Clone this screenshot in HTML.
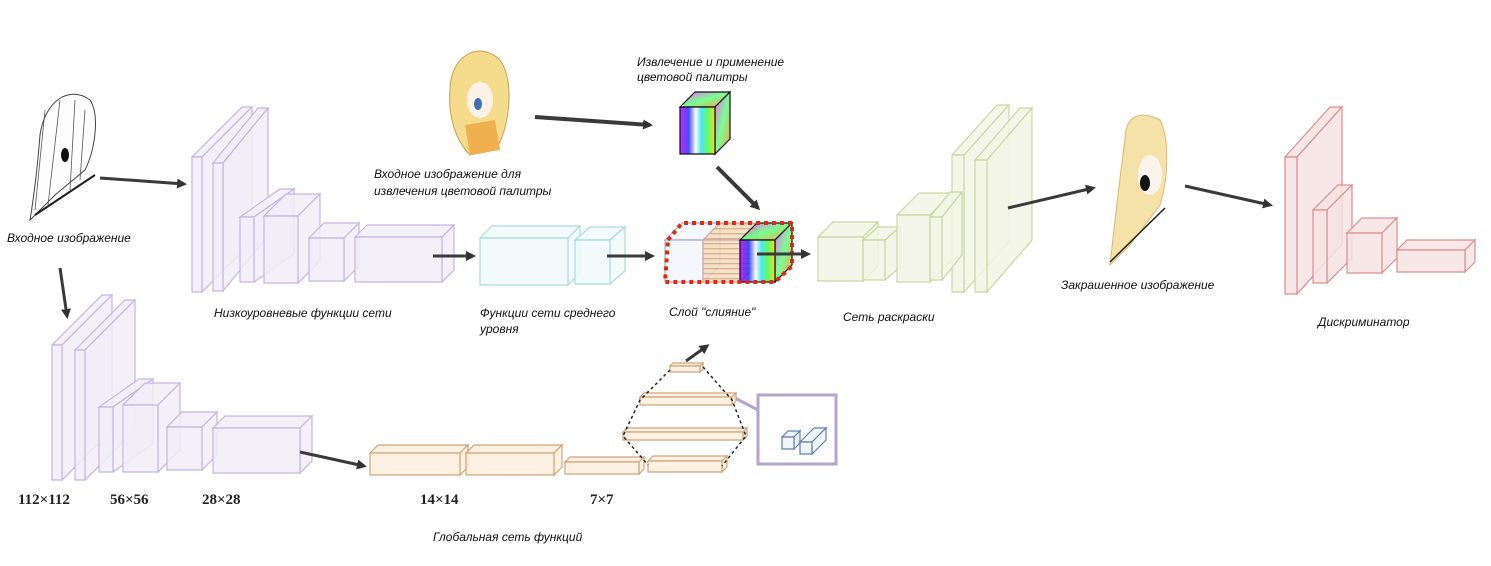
<!DOCTYPE html>
<html><head><meta charset="utf-8"><style>
html,body{margin:0;padding:0;background:#fff;width:1491px;height:566px;overflow:hidden}
svg text{font-family:"Liberation Sans","DejaVu Sans",sans-serif;font-style:italic;font-size:12px;fill:#111}
svg text.n{font-family:"Liberation Serif",serif;font-style:normal;font-weight:bold;font-size:15px;fill:#222}
</style></head><body>
<svg id="s" width="1491" height="566" viewBox="0 0 1491 566" xmlns="http://www.w3.org/2000/svg">
<defs>
<linearGradient id="rb" x1="0" x2="1" y1="0" y2="0">
<stop offset="0" stop-color="#c000ff"/><stop offset="0.25" stop-color="#2030ff"/><stop offset="0.45" stop-color="#fff"/><stop offset="0.6" stop-color="#30e0ff"/><stop offset="0.8" stop-color="#40ff40"/><stop offset="1" stop-color="#ffd000"/>
</linearGradient>
<linearGradient id="rb2" x1="0" x2="1" y1="0" y2="1">
<stop offset="0" stop-color="#ff40ff"/><stop offset="0.5" stop-color="#60ff80"/><stop offset="1" stop-color="#ff9020"/>
</linearGradient>
<pattern id="ln" width="4" height="5" patternUnits="userSpaceOnUse"><rect width="4" height="5" fill="#f4dcc0"/><rect y="3" width="4" height="1.3" fill="#d4a47c"/></pattern>
<marker id="ah" markerWidth="10" markerHeight="10" refX="7" refY="5" orient="auto" markerUnits="userSpaceOnUse"><path d="M0,0 L10,5 L0,10 z" fill="#333"/></marker>
</defs>
<path d="M735,398 L758,410" stroke="#b3a6cc" stroke-width="3"/>
<rect x="758" y="395" width="78" height="69" fill="#fff" stroke="#b3a6cc" stroke-width="3"/>
<g id="boxes"></g>

<g>
<path d="M40,135 C45,100 70,85 90,100 C100,115 95,150 85,170 L55,195 L30,220 C35,190 38,160 40,135 z" fill="#fdfdfd" stroke="#444" stroke-width="1"/>
<path d="M45,110 L35,210 M60,100 L48,205 M75,100 L70,190 M85,110 L80,180" stroke="#555" stroke-width="0.8" fill="none"/>
<ellipse cx="65" cy="155" rx="4" ry="7" fill="#111"/>
<path d="M35,215 L95,175" stroke="#222" stroke-width="2"/>
<path d="M450,90 C450,55 480,40 500,60 C515,80 510,130 495,150 L470,155 C455,140 448,115 450,90 z" fill="#f5dc8c" stroke="#c8a050"/>
<ellipse cx="480" cy="100" rx="13" ry="18" fill="#fbf2e8"/>
<ellipse cx="478" cy="104" rx="4" ry="6" fill="#4070b0"/>
<path d="M465,125 L495,120 L500,150 L470,155 z" fill="#f0b050"/>
<path d="M1125,140 C1125,115 1140,110 1160,120 C1170,140 1168,180 1160,205 L1130,245 L1110,265 C1115,220 1120,175 1125,140 z" fill="#f5e2a8" stroke="#d8b870"/>
<ellipse cx="1150" cy="175" rx="12" ry="20" fill="#fbf4ec"/>
<ellipse cx="1145" cy="183" rx="5" ry="8" fill="#111"/>
<path d="M1110,262 L1165,208" stroke="#222" stroke-width="1.5"/>
</g>

<g stroke="#3a3a3a" stroke-width="3" fill="none" marker-end="url(#ah)">
<path d="M100,178 L184,184"/>
<path d="M60,268 L67,316"/>
<path d="M433,256 L473,256"/>
<path d="M607,256 L652,256"/>
<path d="M535,117 L650,125" stroke-width="4"/>
<path d="M717,167 L758,208" stroke-width="4"/>
<path d="M757,254 L808,254"/>
<path d="M1008,208 L1093,188"/>
<path d="M1185,186 L1270,205"/>
<path d="M300,452 L364,466"/>
<path d="M686,361 L707,346"/>
</g>
<g stroke="#222" stroke-width="1.5" stroke-dasharray="3,3" fill="none">
<path d="M670,370 L640,400 L623,436 L648,465"/>
<path d="M703,367 L732,400 L746,436 L722,466"/>
</g>

<text x="7" y="242">Входное изображение</text>
<text x="214" y="317">Низкоуровневые функции сети</text>
<text x="374" y="178">Входное изображение для</text>
<text x="374" y="195">извлечения цветовой палитры</text>
<text x="637" y="66">Извлечение и применение</text>
<text x="637" y="81">цветовой палитры</text>
<text x="480" y="317">Функции сети среднего</text>
<text x="480" y="333">уровня</text>
<text x="669" y="316">Слой  "слияние"</text>
<text x="843" y="321">Сеть раскраски</text>
<text x="1061" y="289">Закрашенное изображение</text>
<text x="1318" y="326">Дискриминатор</text>
<text x="433" y="541">Глобальная сеть функций</text>
<text class="n" x="18" y="504">112×112</text>
<text class="n" x="110" y="504">56×56</text>
<text class="n" x="202" y="504">28×28</text>
<text class="n" x="420" y="504">14×14</text>
<text class="n" x="590" y="504">7×7</text>
</svg>
<script>
var g=document.getElementById('boxes');
function box(x,y,w,h,dx,dy,f,s,ff){
 var p=function(pts,fill){var e=document.createElementNS('http://www.w3.org/2000/svg','polygon');e.setAttribute('points',pts);e.setAttribute('fill',fill);e.setAttribute('stroke',s);e.setAttribute('stroke-width','1.2');e.setAttribute('fill-opacity','0.85');g.appendChild(e);};
 p([x,y,x+dx,y-dy,x+w+dx,y-dy,x+w,y].join(','),f);
 p([x+w,y,x+w+dx,y-dy,x+w+dx,y+h-dy,x+w,y+h].join(','),f);
 p([x,y,x+w,y,x+w,y+h,x,y+h].join(','),ff||f);
}
var P='#f1edf7',PS='#c6b5e0';
[[192,157,10,135,50,50],[213,163,10,128,45,55],[240,217,14,65,40,28],[264,216,34,67,22,22],[309,238,35,43,15,15],[355,237,87,45,12,12]].forEach(a=>box(...a,P,PS));
[[52,345,10,135,50,50],[75,350,10,130,50,50],[99,407,14,65,40,28],[123,405,35,67,22,22],[167,427,35,43,15,15],[213,428,87,45,12,12]].forEach(a=>box(...a,P,PS));
[[480,238,88,47,12,12],[575,240,35,44,15,13]].forEach(a=>box(...a,'#f0f9fa','#a8dcdc'));
var G='#f2f5e6',GS='#cbd8a0';
[[952,155,12,137,45,50],[975,160,12,132,45,52],[818,237,45,44,15,15],[863,240,22,40,15,13],[897,215,33,67,22,22],[930,217,12,63,20,25]].forEach(a=>box(...a,G,GS));
var R='#f6e3e3',RS='#d89090';
[[1285,157,12,137,45,50],[1313,210,14,73,25,25],[1347,233,35,40,15,15],[1397,250,68,22,10,10]].forEach(a=>box(...a,R,RS));
var O='#fbeede',OS='#cfa478';
[[370,453,90,22,8,8],[466,453,88,22,8,8],[565,462,74,12,5,5],[648,461,74,11,5,5],[623,432,120,8,4,4],[640,397,92,8,4,4],[670,366,30,6,3,3]].forEach(a=>box(...a,O,OS));
box(782,437,12,12,6,6,'#eef4fc','#6080b0');box(800,442,12,12,14,14,'#eef4fc','#6080b0');
box(680,107,35,47,15,15,'url(#rb2)','#111','url(#rb)');
box(665,240,38,42,17,17,'#f2f6fa','#aac');
box(703,240,37,42,17,17,'url(#ln)','#caa');
box(740,240,35,42,17,17,'url(#rb2)','#111','url(#rb)');
var r=document.createElementNS('http://www.w3.org/2000/svg','path');
r.setAttribute('d','M668,240 L682,223 L792,223 L792,266 L775,282 L665,282 Z');
r.setAttribute('fill','none');r.setAttribute('stroke','#dd2a10');r.setAttribute('stroke-width','4');r.setAttribute('stroke-dasharray','4,4');g.appendChild(r);
</script>
</body></html>
